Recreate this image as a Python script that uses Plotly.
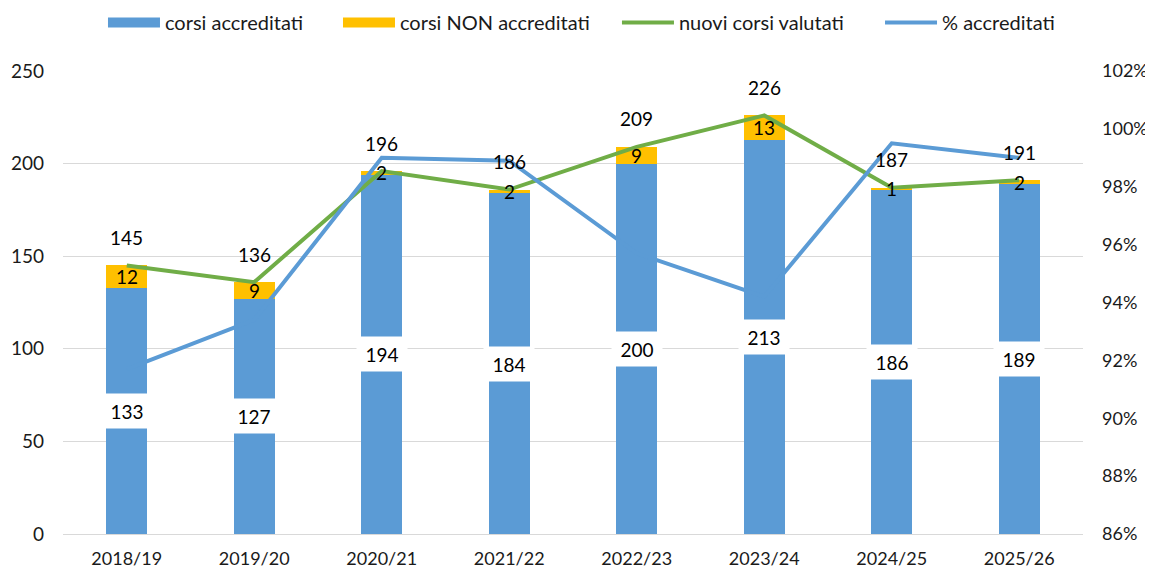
import plotly.graph_objects as go

categories = ["2018/19", "2019/20", "2020/21", "2021/22", "2022/23", "2023/24", "2024/25", "2025/26"]
accreditati = [133, 127, 194, 184, 200, 213, 186, 189]
non_accreditati = [12, 9, 2, 2, 9, 13, 1, 2]
nuovi_valutati = [145, 136, 196, 186, 209, 226, 187, 191]
perc_accreditati = [0.917, 0.934, 0.990, 0.989, 0.957, 0.942, 0.995, 0.990]

BLUE = "#5B9BD5"
YELLOW = "#FFC000"
GREEN = "#70AD47"
FONT = "Lato"
TXT = "#1a1a1a"

fig = go.Figure()
fig.add_trace(go.Bar(x=categories, y=accreditati, name="corsi accreditati", showlegend=False,
                     legendgroup="acc", marker=dict(color=BLUE, line=dict(width=0))))
fig.add_trace(go.Bar(x=categories, y=non_accreditati, name="corsi NON accreditati", showlegend=False,
                     legendgroup="non", marker=dict(color=YELLOW, line=dict(width=0))))
# legend-only swatches (wide rectangles like the reference)
fig.add_trace(go.Scatter(x=[None], y=[None], name="corsi accreditati", legendgroup="acc",
                         mode="lines", line=dict(color=BLUE, width=15), legend="legend"))
fig.add_trace(go.Scatter(x=[None], y=[None], name="corsi NON accreditati", legendgroup="non",
                         mode="lines", line=dict(color=YELLOW, width=15), legend="legend2"))
fig.add_trace(go.Scatter(x=categories, y=nuovi_valutati, name="nuovi corsi valutati",
                         mode="lines", line=dict(color=GREEN, width=4), legend="legend3"))
fig.add_trace(go.Scatter(x=categories, y=perc_accreditati, name="% accreditati",
                         mode="lines", line=dict(color=BLUE, width=4), yaxis="y2",
                         legend="legend4"))

LBL = dict(family=FONT, size=19, color="black")
annotations = []
for c, a, n, t in zip(categories, accreditati, non_accreditati, nuovi_valutati):
    annotations.append(dict(x=c, y=a / 2, text=str(a), showarrow=False,
                            xref="x", yref="y", bgcolor="white", width=46, height=30,
                            borderpad=2, font=LBL))
    annotations.append(dict(x=c, y=a + n / 2, text=str(n), showarrow=False,
                            xref="x", yref="y", font=LBL))
    annotations.append(dict(x=c, y=t, text=str(t), showarrow=False, yshift=28,
                            xref="x", yref="y", font=LBL))


def leg(xpos):
    return dict(orientation="h", x=xpos, xanchor="left", y=1.1046, yanchor="middle",
                font=dict(family=FONT, size=20, color=TXT), itemwidth=52,
                bgcolor="rgba(0,0,0,0)")


fig.update_layout(
    width=1145, height=563,
    margin=dict(l=55, r=70, t=62.5, b=37, autoexpand=False),
    barmode="stack", bargap=0.68,
    plot_bgcolor="white", paper_bgcolor="white",
    font=dict(family=FONT, size=18, color=TXT),
    legend=leg(0.0392), legend2=leg(0.2696), legend3=leg(0.5431), legend4=leg(0.8010),
    xaxis=dict(showgrid=False, ticks="", showline=False, ticklabelstandoff=12,
               tickfont=dict(size=18)),
    yaxis=dict(range=[0, 250], dtick=50, showgrid=True, gridcolor="#D9D9D9", gridwidth=1,
               zeroline=True, zerolinecolor="#D9D9D9", zerolinewidth=1,
               ticks="", showline=False, ticklabelstandoff=18, tickfont=dict(size=19)),
    yaxis2=dict(range=[0.86, 1.02], dtick=0.02, tickformat=".0%", overlaying="y",
                side="right", showgrid=False, zeroline=False, ticks="", showline=False,
                ticklabelstandoff=18, tickfont=dict(size=18)),
    annotations=annotations,
)

fig.write_html("out.html")
